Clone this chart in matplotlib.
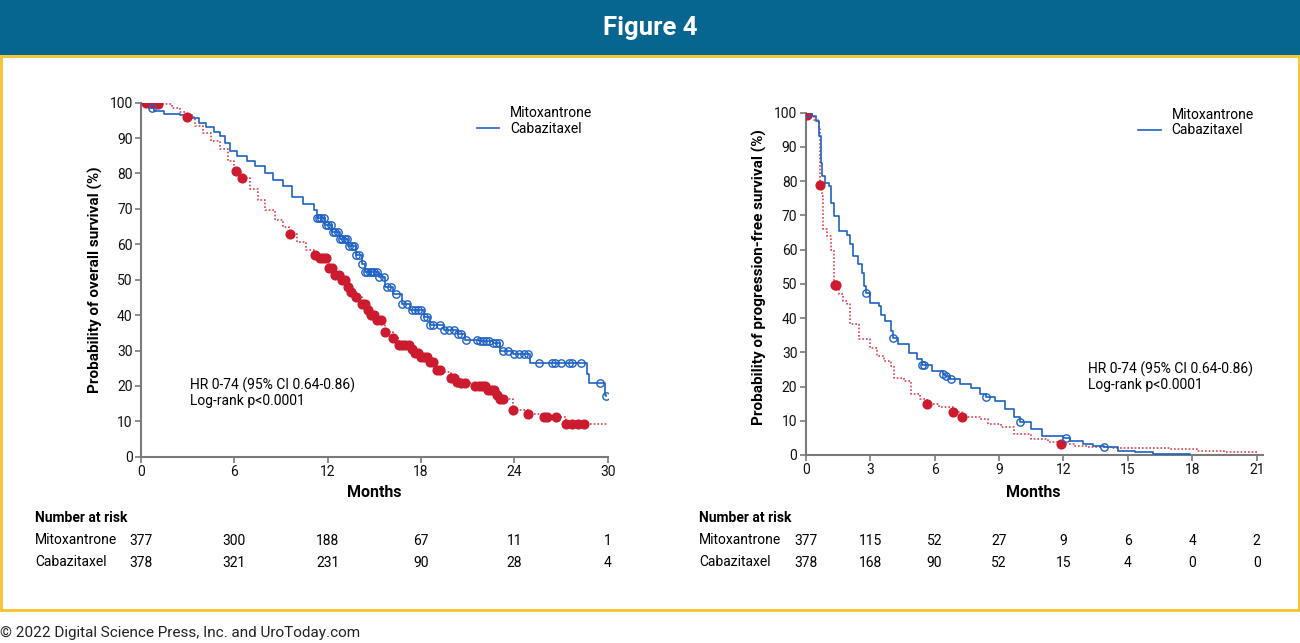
import numpy as np
import matplotlib
matplotlib.use("Agg")
import matplotlib.pyplot as plt
from matplotlib.lines import Line2D
from matplotlib.patches import Rectangle
import matplotlib.transforms as mtransforms

plt.rcParams['font.family'] = ['Roboto', 'DejaVu Sans']

# ---------------- data ----------------
# Overall survival (left)
os_cab_t = [0, 0.5, 0.85, 1.5, 2.5, 3.3, 3.7, 4.2, 4.7, 5.1, 5.4, 5.7, 6.2, 6.8, 7.3, 7.95, 8.5,
            9.1, 9.7, 10.4, 11.1, 11.3, 11.8, 12.3, 12.8, 13.3, 13.8, 14.2, 14.4, 15.3, 15.7,
            16.2, 16.8, 17.3, 18.2, 18.6, 19.5, 20.4, 20.8, 21.7, 22.6, 23.1, 23.9, 25.0,
            28.7, 28.8, 29.8, 29.9]
os_cab_s = [100, 98.6, 97.6, 96.7, 96.4, 95.7, 94.3, 93.0, 91.8, 90.5, 88.5, 86.3, 85.0, 83.5,
            82.0, 80.2, 78.3, 76.4, 73.5, 71.5, 69.8, 67.4, 65.5, 63.5, 61.5, 59.5, 57.0, 54.5,
            52.2, 50.8, 47.9, 46.0, 43.2, 41.4, 39.5, 37.1, 35.7, 34.8, 32.9, 32.7, 32.0, 30.0,
            29.1, 26.5, 23.5, 20.7, 17.4, 17.1]
os_cab_censor = [0.7, 11.3, 11.45, 11.6, 11.75, 11.9, 12.05, 12.2, 12.35, 12.5, 12.65, 12.8,
                 12.95, 13.1, 13.25, 13.4, 13.55, 13.7, 13.85, 14.0, 14.2, 14.4, 14.55, 14.7,
                 14.85, 15.0, 15.15, 15.3, 15.6, 15.8, 16.1, 16.4, 16.8, 17.1, 17.4, 17.6, 17.8,
                 18.0, 18.2, 18.4, 18.6, 18.8, 19.2, 19.5, 19.8, 20.1, 20.4, 20.6, 20.9, 21.6,
                 21.8, 22.0, 22.2, 22.4, 22.6, 22.8, 23.0, 23.3, 23.6, 24.0, 24.3, 24.6, 24.9,
                 25.6, 26.4, 26.6, 27.0, 27.5, 27.7, 28.3, 29.5, 29.9]

os_mit_t = [0, 1.0, 2.0, 2.5, 2.9, 3.5, 4.0, 4.5, 5.1, 5.6, 6.0, 6.4, 7.0, 7.5, 8.0, 8.6, 9.1,
            9.5, 10.0, 10.6, 11.1, 11.5, 12.1, 12.5, 12.8, 13.2, 13.5, 13.8, 14.2, 14.5, 14.8,
            15.2, 15.5, 15.7, 16.2, 16.6, 17.3, 17.6, 17.9, 18.6, 18.9, 19.3, 19.9, 20.3, 20.6,
            21.5, 22.2, 22.8, 23.1, 23.9, 24.9, 25.9, 27.3, 30.0]
os_mit_s = [100, 99.5, 98.6, 97.3, 95.9, 93.5, 91.5, 89.2, 86.8, 83.5, 80.6, 78.7, 75.5, 72.6,
            69.8, 66.9, 64.8, 62.9, 60.6, 58.4, 57.0, 56.0, 53.4, 51.3, 49.8, 48.0, 46.5, 45.1,
            43.2, 41.5, 39.9, 38.5, 37.6, 35.2, 33.4, 31.5, 30.5, 29.3, 28.2, 26.8, 24.4, 24.0,
            22.1, 21.2, 20.9, 19.9, 18.8, 17.4, 16.2, 13.2, 12.0, 11.1, 9.2, 9.2]
os_mit_censor = [0.3, 0.8, 1.1, 2.95, 6.1, 6.5, 9.6, 11.2, 11.5, 11.7, 11.9, 12.1, 12.3, 12.5,
                 12.7, 12.9, 13.1, 13.3, 13.5, 13.8, 14.2, 14.4, 14.6, 14.8, 15.0, 15.2, 15.4,
                 15.7, 16.2, 16.6, 16.8, 17.0, 17.2, 17.4, 17.6, 17.8, 18.0, 18.2, 18.4, 18.6,
                 18.8, 19.0, 19.2, 19.9, 20.1, 20.3, 20.6, 20.8, 21.5, 21.7, 21.9, 22.1, 22.3,
                 22.5, 22.7, 22.9, 23.1, 23.3, 23.9, 24.9, 25.9, 26.1, 26.7, 27.3, 27.7, 28.1,
                 28.5]

# Progression-free survival (right)
pfs_cab_t = [0, 0.3, 0.5, 0.6, 0.64, 0.7, 0.77, 0.9, 1.1, 1.17, 1.33, 1.57, 1.9, 2.05, 2.2, 2.45,
             2.6, 2.72, 2.8, 3.0, 3.4, 3.5, 3.7, 3.97, 4.05, 4.3, 4.8, 5.2, 5.4, 5.9, 6.4, 6.5,
             6.7, 7.2, 7.7, 8.1, 8.4, 8.8, 9.3, 9.7, 10.0, 10.5, 11.0, 12.0, 12.3, 12.9, 13.4,
             13.9, 14.55, 15.35, 16.15, 17.9]
pfs_cab_s = [100, 99.0, 97.6, 96.0, 93.2, 85.4, 81.5, 79.5, 78.6, 73.7, 69.8, 65.4, 64.4, 61.5,
             58.1, 55.7, 53.2, 49.3, 47.4, 44.5, 43.5, 41.0, 39.1, 36.2, 34.1, 32.3, 29.9, 28.0,
             26.3, 24.6, 23.6, 23.1, 22.1, 20.7, 19.7, 17.8, 16.8, 15.8, 13.4, 11.0, 9.5, 7.6,
             5.6, 5.1, 4.2, 3.2, 2.5, 2.2, 1.3, 0.8, 0.3, 0.0]
pfs_cab_censor = [0.05, 2.82, 4.05, 5.4, 5.5, 6.4, 6.55, 6.75, 8.4, 10.0, 12.1, 13.9]

pfs_mit_t = [0, 0.03, 0.37, 0.58, 0.64, 0.65, 0.66, 0.74, 0.8, 1.0, 1.17, 1.33, 1.45, 1.57, 1.73,
             1.9, 2.05, 2.5, 3.0, 3.3, 3.65, 3.97, 4.1, 4.6, 4.9, 5.3, 5.65, 6.2, 6.85, 7.3, 8.1,
             8.5, 9.1, 9.7, 10.5, 11.3, 11.9, 12.5, 13.1, 14.2, 16.95, 18.2, 19.5, 21.0]
pfs_mit_s = [100, 99.3, 98.0, 97.3, 95.1, 85.4, 78.8, 75.6, 65.9, 63.9, 60.0, 49.8, 49.0, 46.9,
             45.0, 44.0, 38.2, 33.8, 31.4, 28.9, 27.5, 26.0, 22.6, 21.7, 17.8, 16.3, 15.0, 13.9,
             12.7, 11.0, 10.5, 9.0, 8.1, 6.1, 4.7, 3.7, 3.2, 2.7, 2.2, 2.0, 1.7, 1.3, 1.0, 0.8]
pfs_mit_censor = [0.05, 0.66, 1.38, 1.43, 5.65, 6.85, 7.3, 11.9]

os_ticks = [0, 6, 12, 18, 24, 30]
os_risk_mit = [377, 300, 188, 67, 11, 1]
os_risk_cab = [378, 321, 231, 90, 28, 4]
pfs_ticks = [0, 3, 6, 9, 12, 15, 18, 21]
pfs_risk_mit = [377, 115, 52, 27, 9, 6, 4, 2]
pfs_risk_cab = [378, 168, 90, 52, 15, 4, 0, 0]
y_ticks = [0, 10, 20, 30, 40, 50, 60, 70, 80, 90, 100]

series_names = ["Mitoxantrone", "Cabazitaxel"]
hr_text = ["HR 0-74 (95% CI 0.64-0.86)", "Log-rank p<0.0001"]

# ---------------- style ----------------
BLUE = '#1f62c4'
RED = '#cc1a2e'
RED_LINE = '#e0404e'
GREY = '#7a7a7a'
TEAL = '#07668f'
YELLOW = '#f6c22b'

W, H = 1300, 643
fig = plt.figure(figsize=(W / 100, H / 100), dpi=100)
fig.patch.set_facecolor('white')

# header band
fig.patches.append(Rectangle((0, 1 - 55 / H), 1, 55 / H, transform=fig.transFigure,
                             facecolor=TEAL, edgecolor='none', zorder=0))
fig.text(0.5, 1 - 28 / H, "Figure 4", color='white', fontsize=18.5, fontweight='bold',
         ha='center', va='center')
# yellow frame
fig.patches.append(Rectangle((1 / W, 1 - 610 / H), 1 - 2 / W, (610 - 56) / H,
                             transform=fig.transFigure, facecolor='none', edgecolor=YELLOW,
                             linewidth=2, zorder=0))
fig.text(0.0, 1 - 633 / H, "© 2022 Digital Science Press, Inc. and UroToday.com",
         fontsize=11, color='#222222', ha='left', va='center')


def step_at(t_arr, s_arr, tc):
    t_arr = np.asarray(t_arr)
    s_arr = np.asarray(s_arr)
    idx = np.searchsorted(t_arr, tc, side='right') - 1
    return s_arr[np.clip(idx, 0, len(s_arr) - 1)]


def style_axes(ax, xmax, xticks):
    for side in ['top', 'right']:
        ax.spines[side].set_visible(False)
    for side in ['left', 'bottom']:
        ax.spines[side].set_color(GREY)
        ax.spines[side].set_linewidth(1.5)
    ax.set_xlim(0, xmax)
    ax.set_ylim(0, 100)
    ax.set_xticks(xticks)
    ax.set_yticks(y_ticks)
    ax.tick_params(axis='both', colors=GREY, length=4, width=1.2, labelsize=10,
                   labelcolor='#111111', pad=2)


def draw_km(ax, t_cab, s_cab, c_cab, t_mit, s_mit, c_mit):
    ax.plot(t_mit, s_mit, drawstyle='steps-post', color=RED_LINE, lw=1.2,
            linestyle=(0, (1, 1.2)), zorder=2)
    ax.plot(t_cab, s_cab, drawstyle='steps-post', color=BLUE, lw=1.2, zorder=3)
    ax.plot(c_mit, step_at(t_mit, s_mit, c_mit), 'o', color=RED, ms=6.3, mec=RED,
            linestyle='none', zorder=4)
    ax.plot(c_cab, step_at(t_cab, s_cab, c_cab), 'o', mfc='none', mec=BLUE, ms=5.3,
            mew=1.0, linestyle='none', zorder=5)


def legend(ax, anchor):
    handles = [Line2D([], [], color='none'), Line2D([], [], color=BLUE, lw=1.2)]
    ax.legend(handles, series_names, loc='upper left', bbox_to_anchor=anchor, frameon=False,
              fontsize=10, handlelength=1.6, handletextpad=0.8, labelspacing=0.1,
              borderaxespad=0)


def risk_table(ax, ticks, mit, cab, xlab):
    tr = mtransforms.blended_transform_factory(ax.transData, fig.transFigure)
    fig.text(xlab / W, 1 - 518 / H, "Number at risk", fontsize=10, fontweight='bold',
             ha='left', va='center')
    fig.text(xlab / W, 1 - 540 / H, series_names[0], fontsize=10, ha='left', va='center')
    fig.text(xlab / W, 1 - 562 / H, series_names[1], fontsize=10, ha='left', va='center')
    for x, a, b in zip(ticks, mit, cab):
        ax.text(x, 1 - 541 / H, str(a), transform=tr, fontsize=10, ha='center', va='center',
                clip_on=False)
        ax.text(x, 1 - 563 / H, str(b), transform=tr, fontsize=10, ha='center', va='center',
                clip_on=False)


# ---------- left axes ----------
axL = fig.add_axes([141 / W, 1 - 456.7 / H, (607.7 - 141) / W, (456.7 - 102.7) / H])
style_axes(axL, 30, os_ticks)
draw_km(axL, os_cab_t, os_cab_s, os_cab_censor, os_mit_t, os_mit_s, os_mit_censor)
axL.set_xlabel("Months", fontsize=11.5, fontweight='bold')
axL.xaxis.set_label_coords(0.5, -0.08)
axL.set_ylabel("Probability of overall survival (%)", fontsize=11, fontweight='bold')
axL.yaxis.set_label_coords(-0.082, 0.5)
axL.text(3.15, 20.3, hr_text[0], fontsize=10, va='center', ha='left')
axL.text(3.15, 15.6, hr_text[1], fontsize=10, va='center', ha='left')
legend(axL, (0.707, 1.006))
risk_table(axL, os_ticks, os_risk_mit, os_risk_cab, 35)

# ---------- right axes ----------
axR = fig.add_axes([805.7 / W, 1 - 455 / H, 457.4 / W, (455 - 112.7) / H])
style_axes(axR, 21.3, pfs_ticks)
draw_km(axR, pfs_cab_t, pfs_cab_s, pfs_cab_censor, pfs_mit_t, pfs_mit_s, pfs_mit_censor)
axR.set_xlabel("Months", fontsize=11.5, fontweight='bold')
axR.xaxis.set_label_coords(0.497, -0.088)
axR.set_ylabel("Probability of progression-free survival (%)", fontsize=11, fontweight='bold')
axR.yaxis.set_label_coords(-0.084, 0.52)
axR.text(13.15, 25.1, hr_text[0], fontsize=10, va='center', ha='left')
axR.text(13.15, 20.4, hr_text[1], fontsize=10, va='center', ha='left')
legend(axR, (0.715, 1.03))
risk_table(axR, pfs_ticks, pfs_risk_mit, pfs_risk_cab, 699)

fig.savefig("out.png", dpi=100)
